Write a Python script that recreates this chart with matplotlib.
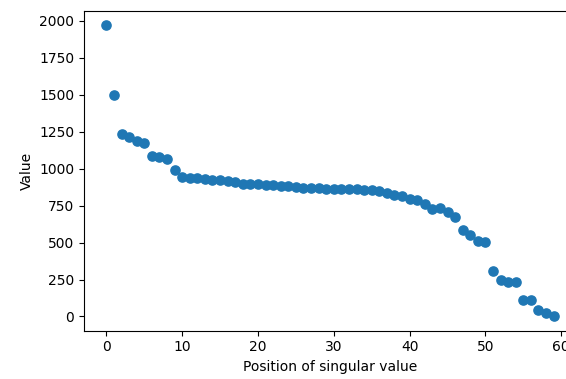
import numpy as np
import matplotlib
matplotlib.use("Agg")
import matplotlib.pyplot as plt

# singular values, in order
values = [1970, 1500, 1232, 1214, 1185, 1173, 1085, 1079, 1063, 993,
          943, 939, 937, 928, 925, 921, 916, 907, 898, 896,
          893, 888, 887, 884, 879, 876, 872, 870, 868, 865,
          863, 862, 862, 861, 858, 856, 846, 832, 819, 812,
          797, 785, 763, 729, 736, 706, 672, 587, 553, 508,
          503, 311, 248, 230, 230, 113, 113, 45, 23, 3]
positions = np.arange(len(values))

fig = plt.figure(figsize=(5.66, 3.79), dpi=100)
# the reference is cropped on the right, so the axes run past the edge
ax = fig.add_axes([84 / 566, (379 - 330.6) / 379, 492 / 566, 320 / 379])
ax.scatter(positions, values, s=44, color="#1f77b4")
ax.set_xlabel("Position of singular value")
ax.set_ylabel("Value")

fig.savefig("out.png", dpi=100)
